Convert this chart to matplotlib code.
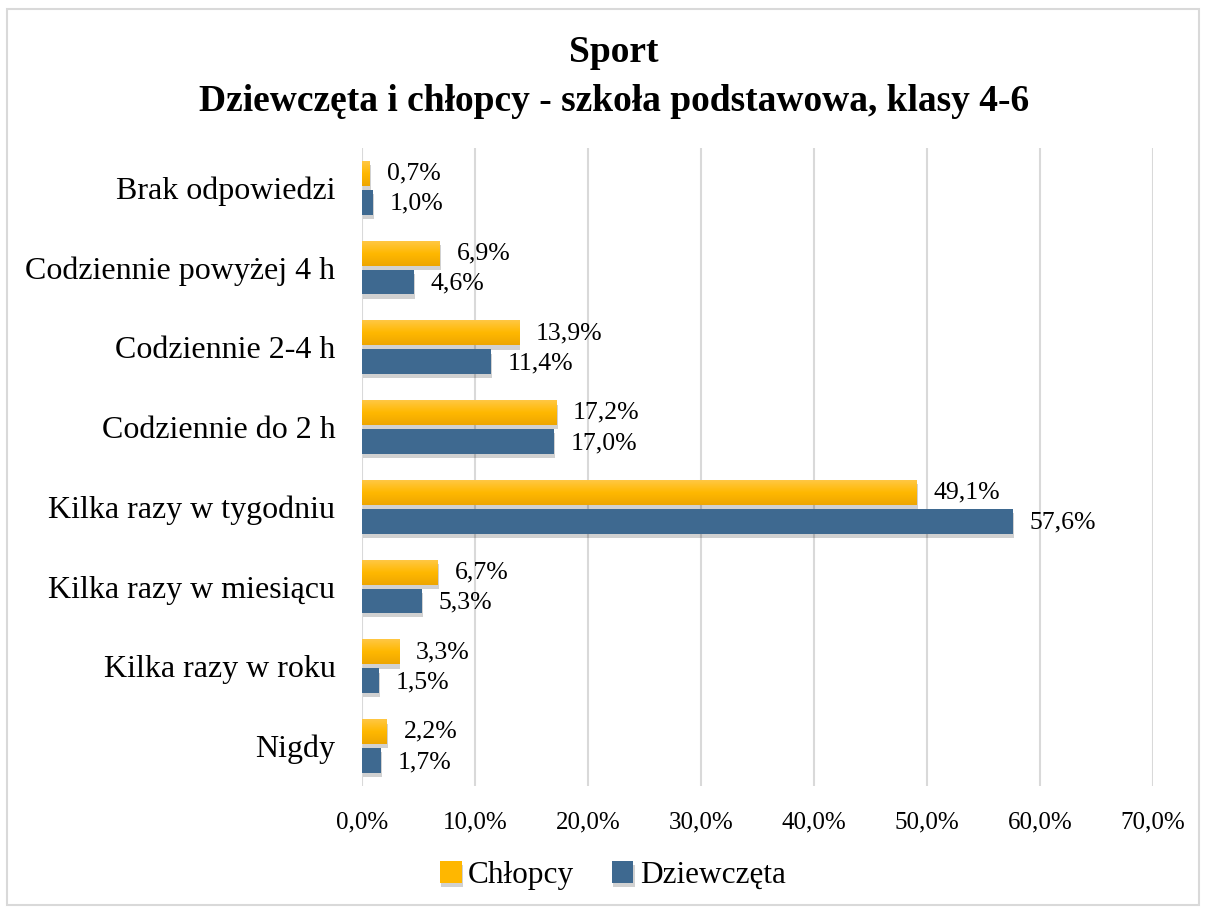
import numpy as np
import matplotlib.pyplot as plt
import matplotlib.patheffects as pe
from matplotlib.patches import Rectangle
from matplotlib.ticker import FuncFormatter
from matplotlib.colors import LinearSegmentedColormap

categories = ['Brak odpowiedzi', 'Codziennie powyżej 4 h', 'Codziennie 2-4 h',
              'Codziennie do 2 h', 'Kilka razy w tygodniu', 'Kilka razy w miesiącu',
              'Kilka razy w roku', 'Nigdy']
chlopcy = [0.7, 6.9, 13.9, 17.2, 49.1, 6.7, 3.3, 2.2]
dziewczeta = [1.0, 4.6, 11.4, 17.0, 57.6, 5.3, 1.5, 1.7]

plt.rcParams['font.family'] = ['Liberation Serif', 'DejaVu Serif']

fig = plt.figure(figsize=(12.06, 9.08), dpi=100)
ax = fig.add_axes([0.300, 0.1344, 0.656, 0.7026])

orange = '#FFB700'
blue = '#3E6990'
h = 0.31
off = 0.18
y = np.arange(len(categories))

shadow = [pe.SimplePatchShadow(offset=(1, -3), shadow_rgbFace='#000000', alpha=0.18), pe.Normal()]

bars_c = ax.barh(y - off, chlopcy, height=h, color=orange, zorder=3, path_effects=shadow)
bars_d = ax.barh(y + off, dziewczeta, height=h, color=blue, zorder=3, path_effects=shadow)

# gradient on the orange bars
grad = np.linspace(0, 1, 50).reshape(-1, 1)
cmap = LinearSegmentedColormap.from_list('og', ['#FFC743', '#FFB800', '#EEA600'])
for b in bars_c:
    x0, y0, w, hh = b.get_x(), b.get_y(), b.get_width(), b.get_height()
    ax.imshow(grad, cmap=cmap, aspect='auto', extent=(x0, x0 + w, y0 + hh, y0),
              zorder=3.5, interpolation='bicubic')

for b, v in zip(bars_c, chlopcy):
    ax.text(v + 1.5, b.get_y() + b.get_height() / 2, f'{v:.1f}%'.replace('.', ','),
            va='center', ha='left', fontsize=18.5, zorder=5)
for b, v in zip(bars_d, dziewczeta):
    ax.text(v + 1.5, b.get_y() + b.get_height() / 2 + 0.02, f'{v:.1f}%'.replace('.', ','),
            va='center', ha='left', fontsize=18.5, zorder=5)

ax.set_xlim(0, 70)
ax.set_ylim(len(categories) - 0.5, -0.5)
ax.set_xticks(np.arange(0, 71, 10))
ax.xaxis.set_major_formatter(FuncFormatter(lambda v, p: f'{v:.1f}%'.replace('.', ',')))
ax.set_yticks(y)
ax.set_yticklabels(categories, fontsize=23)
ax.tick_params(axis='x', labelsize=18, length=0, pad=18)
ax.tick_params(axis='y', length=0, pad=19)
ax.grid(axis='x', color='#D9D9D9', linewidth=1.5, zorder=0)
for s in ax.spines.values():
    s.set_visible(False)

fig.text(0.509, 0.942, 'Sport', ha='center', va='center', fontsize=27, fontweight='bold')
fig.text(0.509, 0.888, 'Dziewczęta i chłopcy - szkoła podstawowa, klasy 4-6',
         ha='center', va='center', fontsize=27, fontweight='bold')

fig.legend([bars_c, bars_d], ['Chłopcy', 'Dziewczęta'], loc='center',
           bbox_to_anchor=(0.508, 0.036), ncol=2, frameon=False, fontsize=22.5,
           handlelength=0.7, handleheight=0.7, handletextpad=0.2, columnspacing=1.2)

fig.patches.append(Rectangle((7 / 1206, 0.003), 1192 / 1206, 1 - 0.003 - 9 / 908,
                             transform=fig.transFigure, fill=False,
                             edgecolor='#D9D9D9', linewidth=1.5))

fig.savefig('out.png', dpi=100)
